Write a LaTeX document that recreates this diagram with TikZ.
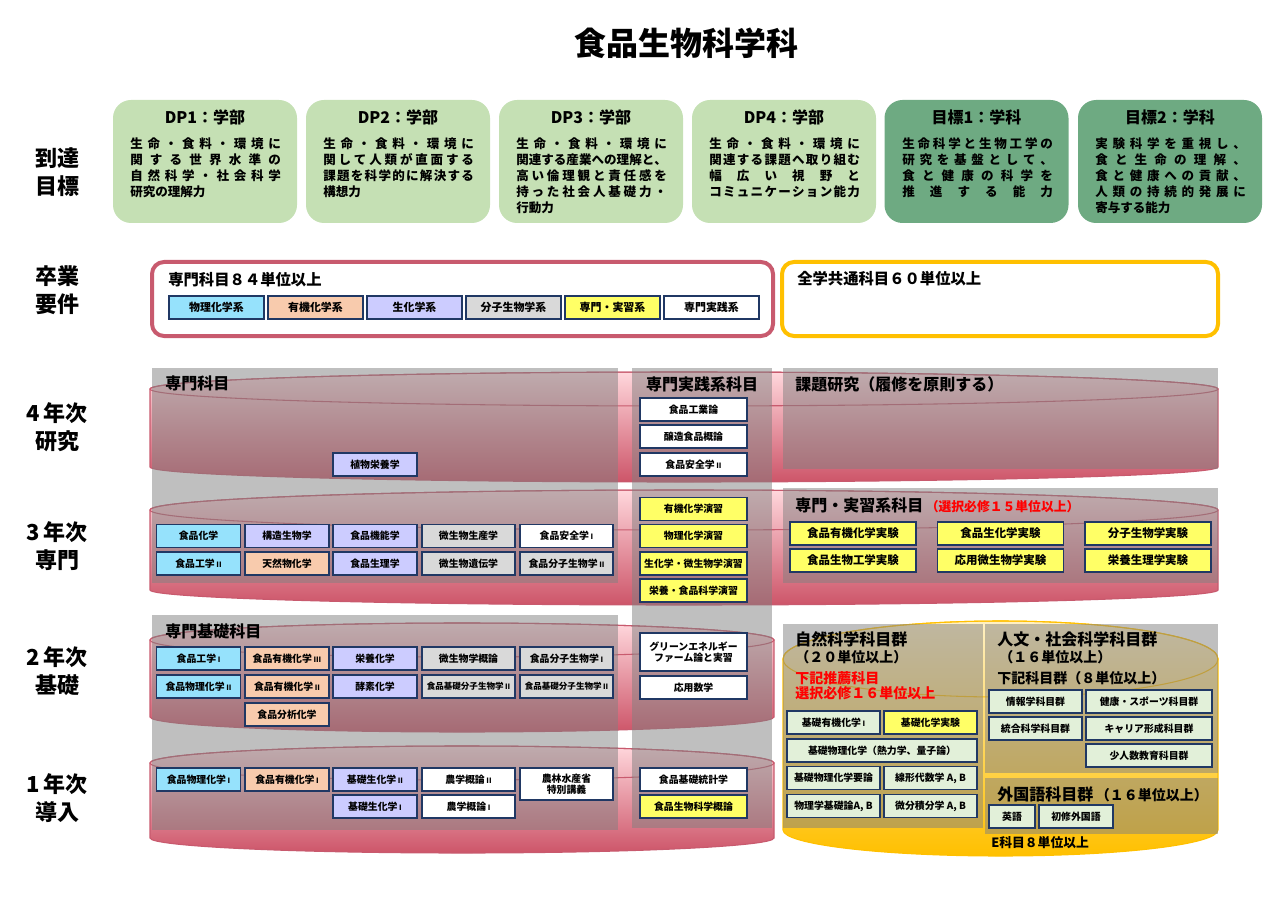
\documentclass[tikz,border=0pt]{standalone}
\usepackage{fontspec}
\setmainfont{Noto Sans CJK JP}
\usetikzlibrary{positioning}

\definecolor{dplight}{RGB}{197,224,180}
\definecolor{dpdark}{RGB}{110,170,130}
\definecolor{rose}{RGB}{200,90,110}
\definecolor{pinktop}{RGB}{255,215,220}
\definecolor{pinkbot}{RGB}{205,85,105}
\definecolor{goldline}{RGB}{255,192,0}
\definecolor{goldtop}{RGB}{255,240,195}
\definecolor{navy}{RGB}{32,56,100}
\definecolor{physc}{RGB}{150,226,252}
\definecolor{orgc}{RGB}{248,203,173}
\definecolor{bioc}{RGB}{204,204,255}
\definecolor{molc}{RGB}{217,217,217}
\definecolor{pracc}{RGB}{255,255,102}
\definecolor{genc}{RGB}{226,240,217}

\newlength\dpw
\setlength\dpw{113pt}
\def\jsaux#1#2\jsend{#1\ifx\relax#2\relax\else\hfill\jsaux#2\jsend\fi}
\newcommand\jsp[1]{\makebox[\dpw][s]{\jsaux#1\jsend}}
\newcommand\rn[1]{\,{\fontsize{5.5}{6}\selectfont #1}}

% cylinder: style, rim colour, x1, x2, top y, top radius, bottom y, bottom radius
\newcommand\cyl[8]{%
\path[#1] (#3,#5) -- (#3,#7)
 .. controls (#3,{#7+0.552*#8}) and ({#3+0.448*(#4-#3)/2},{#7+#8}) .. ({(#3+#4)/2},{#7+#8})
 .. controls ({#4-0.448*(#4-#3)/2},{#7+#8}) and (#4,{#7+0.552*#8}) .. (#4,#7)
 -- (#4,#5)
 .. controls (#4,{#5-0.552*#6}) and ({#4-0.448*(#4-#3)/2},{#5-#6}) .. ({(#3+#4)/2},{#5-#6})
 .. controls ({#3+0.448*(#4-#3)/2},{#5-#6}) and (#3,{#5-0.552*#6}) .. (#3,#5) -- cycle;
\draw[#2, line width=0.8pt] ({(#3+#4)/2},#5) ellipse [x radius={(#4-#3)/2}, y radius=#6];
}

\begin{document}
\begin{tikzpicture}[x=0.75pt,y=0.75pt,yscale=-1,xscale=1,
  pinkcyl/.style={top color=pinktop, bottom color=pinkbot, draw=rose, line width=0.8pt},
  goldcyl/.style={top color=goldtop, bottom color=goldline, draw=goldline, line width=0.8pt},
  ov/.style={fill=gray, fill opacity=0.5},
  yr/.style={align=center, font=\bfseries\fontsize{16.5}{21}\selectfont},
  dpbox/.style={rounded corners=13.5pt, minimum width=138pt, minimum height=92.25pt},
  dphead/.style={font=\bfseries\fontsize{12}{14}\selectfont},
  dpbody/.style={anchor=north west, inner sep=0pt, align=left, font=\bfseries\fontsize{9.4}{12}\selectfont},
  reqbox/.style={rounded corners=9pt, line width=3pt, fill=white, minimum height=55.5pt},
  sec/.style={anchor=west, inner sep=0.75pt, font=\bfseries\fontsize{12}{14}\selectfont},
  sub/.style={anchor=west, inner sep=0.75pt, font=\bfseries\fontsize{9.6}{12}\selectfont},
  crs/.style={draw=navy, line width=1.1pt, fill=white, inner sep=1pt, minimum height=17.25pt, align=center, font=\bfseries\fontsize{7.4}{8.5}\selectfont},
  leg/.style={crs, minimum width=71.25pt, font=\bfseries\fontsize{8.2}{9}\selectfont},
  big/.style={font=\bfseries\fontsize{8.6}{10}\selectfont},
  tight/.style={font=\bfseries\fontsize{6.4}{7}\selectfont},
  phys/.style={fill=physc}, org/.style={fill=orgc}, bio/.style={fill=bioc},
  mol/.style={fill=molc}, prac/.style={fill=pracc}, gen/.style={fill=genc},
  wA/.style={minimum width=63pt}, wB/.style={minimum width=69.75pt},
  wM/.style={minimum width=80.25pt}, wR/.style={minimum width=94.5pt},
  wF/.style={minimum width=142.5pt}]
\useasboundingbox (0,0) rectangle (1280,905);

% Title
\node[font=\bfseries\fontsize{24}{28}\selectfont] (title) at (686,43) {食品生物科学科};

% Row labels
\node[yr] (lblgoal) at (57,172) {到達\\目標};
\node[yr] (lblgrad) at (57,290) {卒業\\要件};
\node[yr] (lbly4) at (57,427) {4\,年次\\研究};
\node[yr] (lbly3) at (57,546) {3\,年次\\専門};
\node[yr] (lbly2) at (57,671) {2\,年次\\基礎};
\node[yr] (lbly1) at (57,798) {1\,年次\\導入};

% DP boxes
\node[dpbox, fill=dplight] (dp1) at (205,161.5) {};
\node[dpbox, fill=dplight] (dp2) at (398,161.5) {};
\node[dpbox, fill=dplight] (dp3) at (591,161.5) {};
\node[dpbox, fill=dplight] (dp4) at (784,161.5) {};
\node[dpbox, fill=dpdark] (goal1) at (976.5,161.5) {};
\node[dpbox, fill=dpdark] (goal2) at (1170,161.5) {};
\node[dphead] (dp1h) at (205,117) {DP1：学部};
\node[dphead] (dp2h) at (398,117) {DP2：学部};
\node[dphead] (dp3h) at (591,117) {DP3：学部};
\node[dphead] (dp4h) at (784,117) {DP4：学部};
\node[dphead] (goal1h) at (976.5,117) {目標1：学科};
\node[dphead] (goal2h) at (1170,117) {目標2：学科};
\node[dpbody] (dp1b) at (130,137) {\jsp{生命・食料・環境に}\\\jsp{関する世界水準の}\\\jsp{自然科学・社会科学}\\研究の理解力};
\node[dpbody] (dp2b) at (323,137) {\jsp{生命・食料・環境に}\\\jsp{関して人類が直面する}\\\jsp{課題を科学的に解決する}\\構想力};
\node[dpbody] (dp3b) at (516,137) {\jsp{生命・食料・環境に}\\\jsp{関連する産業への理解と、}\\\jsp{高い倫理観と責任感を}\\\jsp{持った社会人基礎力・}\\行動力};
\node[dpbody] (dp4b) at (709,137) {\jsp{生命・食料・環境に}\\\jsp{関連する課題へ取り組む}\\\jsp{幅広い視野と}\\\jsp{コミュニケーション能力}};
\node[dpbody] (goal1b) at (902,137) {\jsp{生命科学と生物工学の}\\\jsp{研究を基盤として、}\\\jsp{食と健康の科学を}\\\jsp{推進する能力}};
\node[dpbody] (goal2b) at (1095,137) {\jsp{実験科学を重視し、}\\\jsp{食と生命の理解、}\\\jsp{食と健康への貢献、}\\\jsp{人類の持続的発展に}\\寄与する能力};

% Graduation requirements
\node[reqbox, draw=rose, minimum width=465.75pt] (reqmajor) at (462.5,299) {};
\node[reqbox, draw=goldline, minimum width=327pt] (reqcommon) at (1000,299) {};
\node[sec, font=\bfseries\fontsize{11.5}{14}\selectfont] (reqmajort) at (167,280) {専門科目８４単位以上};
\node[sec, font=\bfseries\fontsize{11.5}{14}\selectfont] (reqcommont) at (796,279) {全学共通科目６０単位以上};
\node[leg, phys] (legphys) at (216.5,307.5) {物理化学系};
\node[leg, org] (legorg) at (315.5,307.5) {有機化学系};
\node[leg, bio] (legbio) at (414.5,307.5) {生化学系};
\node[leg, mol] (legmol) at (513.5,307.5) {分子生物学系};
\node[leg, prac] (legprac) at (612.5,307.5) {専門・実習系};
\node[leg] (legpract) at (711.5,307.5) {専門実践系};

% Year cylinders
\cyl{pinkcyl}{rose}{150}{1218}{389}{17}{467}{15}
\cyl{pinkcyl}{rose}{150}{1218}{510}{20}{590}{15}
\cyl{pinkcyl}{rose}{150}{774}{640}{17}{717}{15}
\cyl{pinkcyl}{rose}{150}{774}{763}{17}{838}{15}
\cyl{goldcyl}{goldline}{783}{1218}{659}{38}{830}{26}

% Gray panels
\path[ov] (152,368) rectangle (618,583);
\path[ov] (152,615) rectangle (618,830);
\path[ov] (632,368) rectangle (772,828);
\path[ov] (783,368) rectangle (1218,469);
\path[ov] (783,488) rectangle (1218,583);
\path[ov] (783,624) rectangle (983,828);
\path[ov] (985,624) rectangle (1218,773);
\path[ov] (985,778) rectangle (1218,834);

% Panel titles
\node[sec] (secmajor) at (164,383) {専門科目};
\node[sec, anchor=center] (secpract) at (702,384) {専門実践系科目};
\node[sec] (secresearch) at (794,384) {課題研究（履修を原則する）};
\node[sec] (secexp) at (794,505) {専門・実習系科目};
\node[sub, anchor=base west, text=red] (secexpreq) at (secexp.base east) {（選択必修１５単位以上）};
\node[sec] (secbasic) at (164,631) {専門基礎科目};
\node[sec] (secnat) at (794,639) {自然科学科目群};
\node[sub, font=\bfseries\fontsize{10.5}{12}\selectfont] (secnatu) at (794,657) {（２０単位以上）};
\node[sub, text=red, font=\bfseries\fontsize{10.5}{12}\selectfont] (secnatr1) at (794,678) {下記推薦科目};
\node[sub, text=red, font=\bfseries\fontsize{10.5}{12}\selectfont] (secnatr2) at (794,693) {選択必修１６単位以上};
\node[sec] (sechum) at (996,639) {人文・社会科学科目群};
\node[sub, font=\bfseries\fontsize{10.5}{12}\selectfont] (sechumu) at (998,657) {（１６単位以上）};
\node[sub, font=\bfseries\fontsize{10.5}{12}\selectfont] (sechumr) at (996,678) {下記科目群（８単位以上）};
\node[sec] (secfor) at (996,794) {外国語科目群};
\node[sub, anchor=base west, font=\bfseries\fontsize{10.5}{12}\selectfont] (secforu) at (secfor.base east) {（１６単位以上）};
\node[sub] (ecredit) at (990,843) {E科目８単位以上};

% Year 4
\node[crs, bio, wA] (c4plant) at (375,464.5) {植物栄養学};
\node[crs, wM] (c4ind) at (693.5,409.5) {食品工業論};
\node[crs, wM] (c4brew) at (693.5,436.5) {醸造食品概論};
\node[crs, wM] (c4safe) at (693.5,464.5) {食品安全学\rn{II}};

% Year 3
\node[crs, phys, wA] (c3chem) at (198.5,536) {食品化学};
\node[crs, bio, wA] (c3struct) at (287,536) {構造生物学};
\node[crs, bio, wA] (c3func) at (375,536) {食品機能学};
\node[crs, mol, wB] (c3microp) at (468.5,536) {微生物生産学};
\node[crs, wB] (c3safe) at (566.5,536) {食品安全学\rn{I}};
\node[crs, phys, wA] (c3eng) at (198.5,563.5) {食品工学\rn{II}};
\node[crs, org, wA] (c3nat) at (287,563.5) {天然物化学};
\node[crs, bio, wA] (c3phys) at (375,563.5) {食品生理学};
\node[crs, mol, wB] (c3microg) at (468.5,563.5) {微生物遺伝学};
\node[crs, mol, wB] (c3molbio) at (566.5,563.5) {食品分子生物学\rn{II}};
\node[crs, prac, wM] (c3orgex) at (693.5,509) {有機化学演習};
\node[crs, prac, wM] (c3physex) at (693.5,536) {物理化学演習};
\node[crs, prac, wM] (c3bioex) at (693.5,563.5) {生化学・微生物学演習};
\node[crs, prac, wM] (c3nutex) at (693.5,590.5) {栄養・食品科学演習};
\node[crs, prac, wR, big] (c3lab1) at (853,533.5) {食品有機化学実験};
\node[crs, prac, wR, big] (c3lab2) at (1000.5,533.5) {食品生化学実験};
\node[crs, prac, wR, big] (c3lab3) at (1148,533.5) {分子生物学実験};
\node[crs, prac, wR, big] (c3lab4) at (853,560.5) {食品生物工学実験};
\node[crs, prac, wR, big] (c3lab5) at (1000.5,560.5) {応用微生物学実験};
\node[crs, prac, wR, big] (c3lab6) at (1148,560.5) {栄養生理学実験};

% Year 2
\node[crs, phys, wA] (c2eng) at (198.5,658.5) {食品工学\rn{I}};
\node[crs, org, wA] (c2org3) at (287,658.5) {食品有機化学\rn{III}};
\node[crs, bio, wA] (c2nut) at (375,658.5) {栄養化学};
\node[crs, mol, wB] (c2micro) at (468.5,658.5) {微生物学概論};
\node[crs, mol, wB] (c2molbio) at (566.5,658.5) {食品分子生物学\rn{I}};
\node[crs, phys, wA] (c2phys) at (198.5,686.5) {食品物理化学\rn{II}};
\node[crs, org, wA] (c2org2) at (287,686.5) {食品有機化学\rn{II}};
\node[crs, bio, wA] (c2enz) at (375,686.5) {酵素化学};
\node[crs, mol, wB, tight] (c2basmol1) at (468.5,686.5) {食品基礎分子生物学\rn{II}};
\node[crs, mol, wB, tight] (c2basmol2) at (566.5,686.5) {食品基礎分子生物学\rn{II}};
\node[crs, org, wA] (c2anal) at (287,714.5) {食品分析化学};
\node[crs, wM, minimum height=28.5pt] (c2green) at (693.5,652) {グリーンエネルギー\\ファーム論と実習};
\node[crs, wM] (c2math) at (693.5,687.5) {応用数学};

% Year 1
\node[crs, phys, wA] (c1phys) at (198.5,779.5) {食品物理化学\rn{I}};
\node[crs, org, wA] (c1org) at (287,779.5) {食品有機化学\rn{I}};
\node[crs, bio, wA] (c1bio2) at (375,779.5) {基礎生化学\rn{II}};
\node[crs, wB] (c1agr2) at (468.5,779.5) {農学概論\rn{II}};
\node[crs, wB, minimum height=24pt] (c1maff) at (566.5,784) {農林水産省\\特別講義};
\node[crs, bio, wA] (c1bio1) at (375,806.5) {基礎生化学\rn{I}};
\node[crs, wB] (c1agr1) at (468.5,806.5) {農学概論\rn{I}};
\node[crs, wM] (c1stat) at (693.5,779.5) {食品基礎統計学};
\node[crs, prac, wM] (c1intro) at (693.5,806.5) {食品生物科学概論};

% Common subjects
\node[crs, gen, wB] (gorg) at (833.5,722.5) {基礎有機化学\rn{I}};
\node[crs, prac, wB] (glab) at (930.5,722.5) {基礎化学実験};
\node[crs, gen, wF] (gphys) at (882,750.5) {基礎物理化学（熱力学、量子論）};
\node[crs, gen, wB] (gphysb) at (833.5,778) {基礎物理化学要論};
\node[crs, gen, wB] (glin) at (930.5,778) {線形代数学 A, B};
\node[crs, gen, wB] (gphysf) at (833.5,806) {物理学基礎論A, B};
\node[crs, gen, wB] (gcalc) at (930.5,806) {微分積分学 A, B};
\node[crs, gen, wB] (hinfo) at (1035.5,701.5) {情報学科目群};
\node[crs, gen, wR] (hhealth) at (1149,701.5) {健康・スポーツ科目群};
\node[crs, gen, wB] (hinteg) at (1035.5,728.5) {統合科学科目群};
\node[crs, gen, wR] (hcareer) at (1149,728.5) {キャリア形成科目群};
\node[crs, gen, wR] (hsmall) at (1149,755.5) {少人数教育科目群};
\node[crs, gen, minimum width=34.5pt] (feng) at (1012,816.5) {英語};
\node[crs, gen, minimum width=55.5pt] (fsecond) at (1076,816.5) {初修外国語};

\end{tikzpicture}
\end{document}
